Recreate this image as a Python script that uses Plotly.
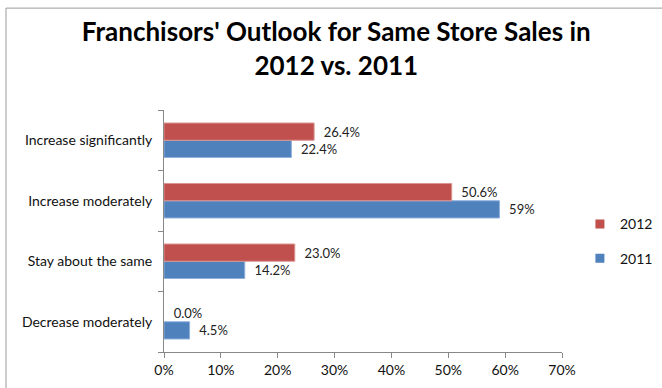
import plotly.graph_objects as go

# Survey answers, listed bottom-to-top as they appear on the category axis
categories = ["Decrease moderately", "Stay about the same", "Increase moderately", "Increase significantly"]
values_2011 = [4.5, 14.2, 59, 22.4]
labels_2011 = ["4.5%", "14.2%", "59%", "22.4%"]
values_2012 = [0.0, 23.0, 50.6, 26.4]
labels_2012 = ["0.0%", "23.0%", "50.6%", "26.4%"]
x_ticks = [0, 10, 20, 30, 40, 50, 60, 70]
x_tick_labels = ["0%", "10%", "20%", "30%", "40%", "50%", "60%", "70%"]

FONT = "Lato, 'Open Sans', sans-serif"
LABEL_GAP = "\u00a0\u00a0"
BLUE, RED = "#4F81BD", "#C0504D"


def outline_widths(values):
    # no outline on empty bars so a zero value leaves no sliver
    return [0 if v == 0 else 1 for v in values]


fig = go.Figure()
fig.add_trace(go.Bar(
    name="2011", y=categories, x=values_2011, orientation="h",
    text=labels_2011, texttemplate=LABEL_GAP + "%{text}",
    textposition="outside", cliponaxis=False, showlegend=False,
    marker=dict(color=BLUE, line=dict(color="#8EB0DC", width=outline_widths(values_2011))),
    textfont=dict(size=13, color="#222222", family=FONT),
))
fig.add_trace(go.Bar(
    name="2012", y=categories, x=values_2012, orientation="h",
    text=labels_2012, texttemplate=LABEL_GAP + "%{text}",
    textposition="outside", cliponaxis=False, showlegend=False,
    marker=dict(color=RED, line=dict(color="#DC9492", width=outline_widths(values_2012))),
    textfont=dict(size=13, color="#222222", family=FONT),
))

# Legend keys: small squares, 2012 listed above 2011
for name, color in [("2012", RED), ("2011", BLUE)]:
    fig.add_trace(go.Scatter(
        name=name, x=[None], y=[None], mode="markers",
        marker=dict(symbol="square", size=9, color=color),
        legendgroup=name, showlegend=True, hoverinfo="skip",
    ))

fig.update_layout(
    width=662, height=388,
    margin=dict(l=164, r=100, t=110, b=36, autoexpand=False),
    paper_bgcolor="white", plot_bgcolor="white",
    barmode="group", bargap=0.43, bargroupgap=0,
    font=dict(family=FONT, size=14, color="#111111"),
    title=dict(
        text="<b>Franchisors' Outlook for Same Store Sales in<br>2012 vs. 2011</b>",
        xref="container", x=0.508, xanchor="center",
        yref="container", y=0.895, yanchor="top",
        font=dict(size=26, color="#000000", family=FONT),
    ),
    legend=dict(
        xref="container", x=0.876, xanchor="left",
        yref="container", y=0.463, yanchor="top",
        font=dict(size=14, color="#111111"),
        itemwidth=30, tracegroupgap=13, bgcolor="rgba(0,0,0,0)",
    ),
    showlegend=True,
    xaxis=dict(
        range=[0, 70], tickvals=x_ticks, ticktext=x_tick_labels,
        showgrid=False, zeroline=False,
        showline=True, linecolor="#888888", linewidth=1,
        ticks="outside", ticklen=5, tickcolor="#888888",
        tickfont=dict(size=14, color="#111111"),
    ),
    yaxis=dict(
        categoryorder="array", categoryarray=categories,
        showgrid=False, zeroline=False,
        showline=True, linecolor="#888888", linewidth=1,
        ticks="outside", ticklen=5, tickcolor="#888888", tickson="boundaries",
        tickfont=dict(size=14, color="#111111"),
        ticklabelstandoff=8,
    ),
    shapes=[dict(
        type="rect", xref="paper", yref="paper",
        x0=-0.397, x1=1.3, y0=-0.2, y1=1.421,
        line=dict(color="#9A9A9A", width=1), fillcolor="rgba(0,0,0,0)", layer="below",
    )],
)

fig.write_html("out.html")
